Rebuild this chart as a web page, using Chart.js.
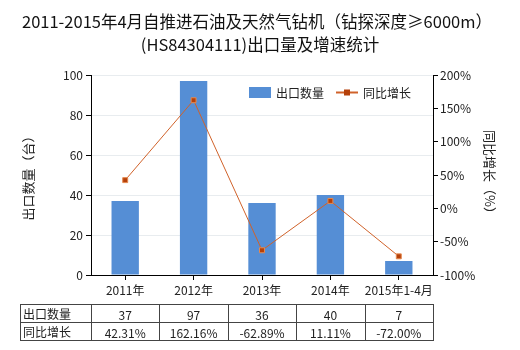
<!DOCTYPE html>
<html>
<head>
<meta charset="utf-8">
<script src="https://cdn.jsdelivr.net/npm/chart.js@4/dist/chart.umd.min.js"></script>
<style>
  html, body { margin: 0; padding: 0; background: #fff; }
  #wrap { width: 520px; height: 350px; }
</style>
</head>
<body>
<div id="wrap"><canvas id="exportChart" width="520" height="350"></canvas></div>
<script>
var years = ["2011年", "2012年", "2013年", "2014年", "2015年1-4月"];
var exportQty = [37, 97, 36, 40, 7];
var growthRate = [42.31, 162.16, -62.89, 11.11, -72.00];
var qtyTicks = [0, 20, 40, 60, 80, 100];
var rateTicks = [-100, -50, 0, 50, 100, 150, 200];

var titleLines = ["2011-2015年4月自推进石油及天然气钻机（钻探深度≥6000m）", "(HS84304111)出口量及增速统计"];
var qtyName = "出口数量";
var rateName = "同比增长";

var FONT = '"Noto Sans CJK SC", "Noto Sans", sans-serif';
var barColor = "#558ed5";
var lineColor = "#d0622a";
var pointFill = "#b5400a";
var textColor = "#222";

Chart.defaults.font.family = FONT;
Chart.defaults.font.size = 12;
Chart.defaults.color = textColor;

// title, legend, axis titles and the data table underneath
var extras = {
  id: "extras",
  afterDraw: function (chart) {
    var ctx = chart.ctx;
    var area = chart.chartArea;
    var x = chart.scales.x;
    ctx.save();

    ctx.fillStyle = "#111";
    ctx.font = "16.5px " + FONT;
    ctx.textAlign = "center";
    ctx.textBaseline = "middle";
    ctx.fillText(titleLines[0], 257, 22);
    ctx.fillText(titleLines[1], 260, 45);

    // legend
    ctx.font = "12px " + FONT;
    ctx.textAlign = "left";
    ctx.fillStyle = barColor;
    ctx.fillRect(249, 87, 22, 11);
    ctx.fillStyle = textColor;
    ctx.fillText(qtyName, 276, 93);
    ctx.strokeStyle = lineColor;
    ctx.lineWidth = 2;
    ctx.beginPath();
    ctx.moveTo(336, 92.5);
    ctx.lineTo(358, 92.5);
    ctx.stroke();
    ctx.fillStyle = pointFill;
    ctx.fillRect(344, 89.5, 6, 6);
    ctx.fillStyle = textColor;
    ctx.fillText(rateName, 363, 93);

    // axis titles
    ctx.font = "13px " + FONT;
    ctx.textAlign = "center";
    var midY = (area.top + area.bottom) / 2;
    ctx.save();
    ctx.translate(28, midY);
    ctx.rotate(-Math.PI / 2);
    ctx.fillText("出口数量（台）", 0, 0);
    ctx.restore();
    ctx.save();
    ctx.translate(490, midY);
    ctx.rotate(Math.PI / 2);
    ctx.fillText("同比增长（%）", 0, 0);
    ctx.restore();

    // table
    var top = 304, rowH = 18, left = 20;
    var half = (x.getPixelForValue(1) - x.getPixelForValue(0)) / 2;
    var right = x.getPixelForValue(years.length - 1) + half;
    ctx.strokeStyle = "#444";
    ctx.lineWidth = 1;
    ctx.strokeRect(left + 0.5, top + 0.5, right - left, rowH * 2);
    ctx.beginPath();
    ctx.moveTo(left, top + rowH + 0.5);
    ctx.lineTo(right, top + rowH + 0.5);
    for (var i = 0; i < years.length; i++) {
      var bx = Math.round(x.getPixelForValue(i) - half) + 0.5;
      ctx.moveTo(bx, top);
      ctx.lineTo(bx, top + rowH * 2);
    }
    ctx.stroke();

    ctx.fillStyle = textColor;
    ctx.font = "12px " + FONT;
    ctx.textAlign = "left";
    ctx.fillText(qtyName, left + 3, top + rowH / 2 + 1);
    ctx.fillText(rateName, left + 3, top + rowH * 1.5 + 1);
    ctx.textAlign = "center";
    for (var j = 0; j < years.length; j++) {
      var cx = x.getPixelForValue(j);
      ctx.fillText(String(exportQty[j]), cx, top + rowH / 2 + 2);
      ctx.fillText(growthRate[j].toFixed(2) + "%", cx, top + rowH * 1.5 + 2);
    }
    ctx.restore();
  }
};

new Chart(document.getElementById("exportChart"), {
  data: {
    labels: years,
    datasets: [
      {
        type: "line",
        label: rateName,
        data: growthRate,
        yAxisID: "yRate",
        borderColor: lineColor,
        borderWidth: 1,
        tension: 0,
        pointStyle: "rect",
        pointRadius: 3.5,
        pointBackgroundColor: pointFill,
        pointBorderColor: "#e58a50",
        pointBorderWidth: 1,
        order: 0
      },
      {
        type: "bar",
        label: qtyName,
        data: exportQty,
        yAxisID: "yQty",
        backgroundColor: barColor,
        categoryPercentage: 1,
        barPercentage: 0.4,
        order: 1
      }
    ]
  },
  options: {
    responsive: false,
    animation: false,
    layout: { padding: { top: 75, left: 0, right: 0, bottom: 0 } },
    plugins: {
      legend: { display: false },
      title: { display: false },
      tooltip: { enabled: false }
    },
    scales: {
      x: {
        offset: true,
        border: { color: "#000" },
        grid: { offset: false, drawOnChartArea: false, tickLength: 5, tickColor: "#000" },
        ticks: { padding: 3, maxRotation: 0, autoSkip: false },
        afterFit: function (s) { s.height = 75; }
      },
      yQty: {
        position: "left",
        min: 0,
        max: 100,
        afterBuildTicks: function (s) { s.ticks = qtyTicks.map(function (v) { return { value: v }; }); },
        border: { color: "#000" },
        grid: { color: "#e8ecef", tickColor: "#000", tickLength: 5 },
        ticks: { padding: 3 },
        afterFit: function (s) { s.width = 91; }
      },
      yRate: {
        position: "right",
        min: -100,
        max: 200,
        afterBuildTicks: function (s) { s.ticks = rateTicks.map(function (v) { return { value: v }; }); },
        border: { color: "#000" },
        grid: { drawOnChartArea: false, tickColor: "#000", tickLength: 5 },
        ticks: { padding: 2, callback: function (v) { return v + "%"; } },
        afterFit: function (s) { s.width = 87; }
      }
    }
  },
  plugins: [extras]
});
</script>
</body>
</html>
